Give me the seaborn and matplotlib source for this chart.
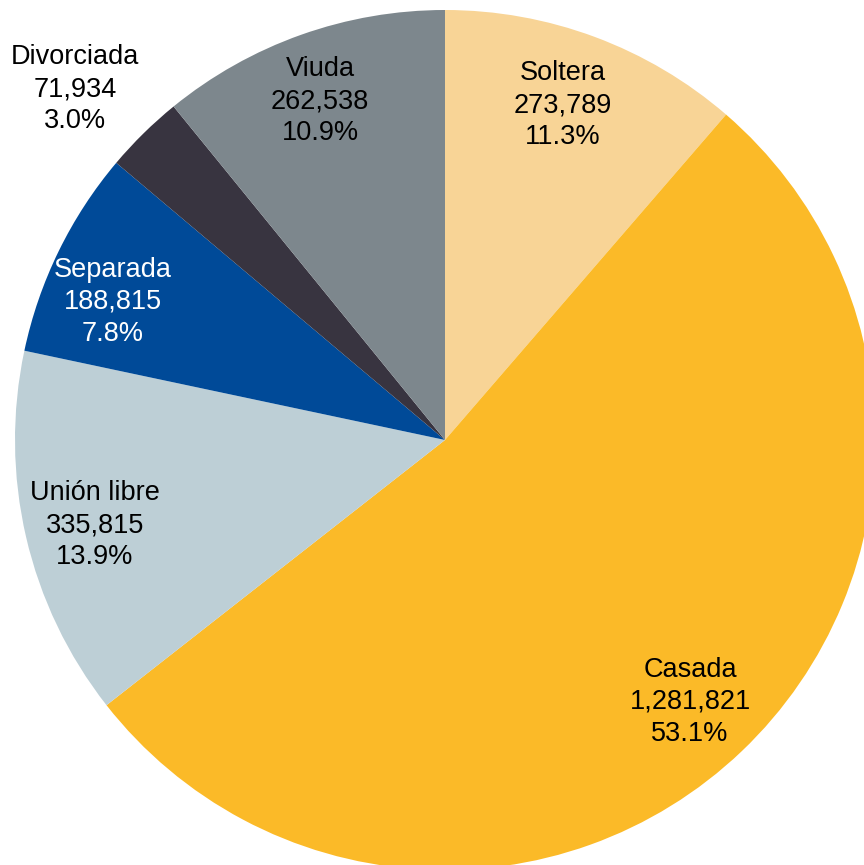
import numpy as np
import matplotlib
matplotlib.use("Agg")
import matplotlib.pyplot as plt
import seaborn as sns

categories = ["Soltera", "Casada", "Unión libre", "Separada", "Divorciada", "Viuda"]
values = [273789, 1281821, 335815, 188815, 71934, 262538]
colors = ["#F8D496", "#FBBA28", "#BDCFD6", "#004A98", "#383440", "#7D878D"]
text_colors = ["black", "black", "black", "white", "black", "black"]

sns.set_theme(style="white")
plt.rcParams["font.family"] = ["Liberation Sans", "DejaVu Sans"]

fig = plt.figure(figsize=(8.64, 8.65), dpi=100)
ax = fig.add_axes([0, 0, 1, 1])
palette = sns.color_palette(colors)

total = sum(values)
labels = [f"{c}\n{v:,}\n{v / total * 100:.1f}%" for c, v in zip(categories, values)]

wedges, texts = ax.pie(values, colors=palette, startangle=90, counterclock=False,
                       labels=labels, labeldistance=0.84, radius=1.0,
                       wedgeprops=dict(linewidth=0))

s = 430.0
cx, cy = 445.0, 440.0
# label centres in pixels (layout)
label_px = [(563, 105), (690, 702), (95, 525), (113, 302), (75, 89), (320, 101)]
for t, tc, (px, py) in zip(texts, text_colors, label_px):
    t.set_ha("center")
    t.set_va("center")
    t.set_color(tc)
    t.set_fontsize(19.5)
    t.set_linespacing(1.28)
    t.set_position(((px - cx) / s, (cy - py) / s))

ax.set_xlim(-cx / s, (864 - cx) / s)
ax.set_ylim(-(865 - cy) / s, cy / s)
ax.set_aspect("equal", adjustable="box")
ax.axis("off")

fig.savefig("out.png", dpi=100)
